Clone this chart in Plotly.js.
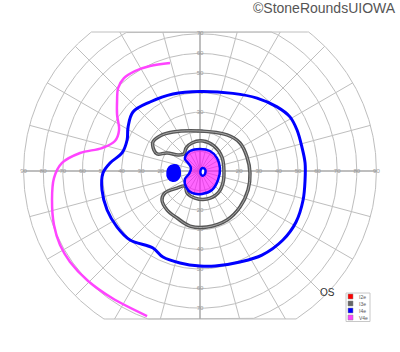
<!DOCTYPE html>
<html><head><meta charset="utf-8">
<script src="https://cdn.plot.ly/plotly-3.0.1.min.js"></script>
<style>html,body{margin:0;padding:0;background:#fff}#chart{width:400px;height:352px}</style>
</head><body><div id="chart"></div>
<script>
// ---------- data (degrees of visual field, x = temporal/nasal, y = superior/inferior) ----------
const isopterNames  = ['I2e', 'I3e', 'I4e', 'V4e'];
const isopterColors = ['#ff0000', '#666666', '#0000ff', '#ff44ff'];

const ringValues   = [10, 20, 30, 40, 50, 60, 70, 80, 90];
const hTickLabels  = [20, 30, 40, 50, 60, 70, 80, 90];
const vTickLabels  = [20, 30, 40, 50, 60, 70];
const meridianStep = 15;

// I4e isopter (blue, closed)
const i4eX = [0, 16.8, 29.1, 39.3, 45.9, 49.5, 52.0, 53.6, 53.6, 52.6, 49.0, 42.3, 31.6, 20.4, 7.7, 0, -10.2, -18.9, -24.0, -35.7, -42.3, -47.4, -50.0, -49.5, -45.9, -39.8, -37.2, -36.7, -34.2, -25.5, -13.8, 0];
const i4eY = [40.6, 39.6, 37.2, 32.7, 27.6, 20.9, 12.2, 4.1, -4.6, -14.8, -26.0, -35.2, -42.9, -46.4, -48.5, -48.5, -46.9, -43.9, -39.3, -35.2, -28.6, -19.9, -9.7, -1.0, 4.1, 9.2, 15.8, 22.4, 30.1, 35.2, 39.3, 40.6];

// I3e isopter (grey, C-shaped around the blind spot, closed)
const i3eX = [-24.0, -20.4, -13.8, 0, 13.8, 20.4, 24.0, 25.5, 24.5, 20.4, 13.8, 3.6, -5.1, -11.7, -16.8, -19.4, -17.9, -11.7, -7.7, -6.6, -2.6, 3.6, 9.2, 11.7, 12.2, 11.2, 7.1, 1.5, -4.1, -7.1, -8.2, -11.2, -16.8, -21.9, -23.5, -24.0];
const i3eY = [14.8, 17.9, 19.9, 20.4, 18.4, 14.3, 7.1, -1.0, -9.7, -18.4, -25.0, -28.6, -28.1, -24.0, -19.9, -14.8, -11.2, -8.7, -7.7, -11.2, -13.8, -14.3, -11.2, -6.1, 0.5, 7.1, 12.8, 15.3, 14.3, 11.7, 8.7, 8.2, 9.2, 8.7, 10.7, 14.8];

// V4e isopter (magenta, open on the temporal side)
const v4eX = [-15.3, -25.5, -33.2, -38.8, -41.8, -42.3, -42.3, -41.3, -43.4, -50.0, -61.2, -70.4, -74.5, -75.5, -74.5, -71.4, -66.3, -57.1, -44.9, -27.0];
const v4eY = [55.1, 53.6, 51.0, 47.4, 42.3, 36.2, 28.6, 20.9, 15.3, 11.7, 9.2, 4.1, -3.6, -14.8, -27.6, -37.8, -46.4, -56.1, -64.8, -74.0];

// central scotoma (I4e outline, V4e filled)
const centralX = [-7.1, -5.1, 0, 5.1, 8.7, 10.2, 9.2, 6.1, 1.0, -4.1, -7.1, -7.7, -5.6, -4.6, -6.1, -7.7, -7.1];
const centralY = [8.2, 10.2, 11.2, 10.2, 6.6, 1.5, -4.6, -9.7, -11.7, -11.2, -8.2, -4.1, -1.5, 1.5, 4.1, 6.1, 8.2];

// small spared island at fixation
const holeX = [1.5, 2.6, 2.8, 2.3, 1.3, 0.4, 0.2, 0.6, 1.5];
const holeY = [1.5, 0.8, -0.6, -1.9, -2.4, -1.6, -0.3, 1.0, 1.5];

// physiologic blind spot (I4e, filled)
const blindX = [-13.8, -11.2, -10.2, -10.2, -11.7, -14.3, -16.3, -16.8, -15.8, -13.8];
const blindY = [3.1, 2.6, 0.5, -2.6, -4.6, -5.1, -3.6, -0.5, 2.0, 3.1];

// ---------- layout geometry ----------
const W = 400, H = 352, CX = 200, CY = 171, PX = 1.96;
const xRange = [-CX / PX, (W - CX) / PX];
const yRange = [-(H - CY) / PX, CY / PX];
const TOP = (CY - 32) / PX, BOT = -(319 - CY) / PX;
const D2R = Math.PI / 180;

// rings
const rx = [], ry = [];
ringValues.forEach(r => {
  for (let a = 0; a <= 360; a += 0.5) {
    rx.push(r * Math.cos(a * D2R));
    ry.push(Math.min(TOP, Math.max(BOT, r * Math.sin(a * D2R))));
  }
  rx.push(null); ry.push(null);
});
// meridians
const mx = [], my = [];
const ax = [], ay = [];
const rMax = ringValues[ringValues.length - 1];
for (let a = 0; a < 360; a += meridianStep) {
  const s = Math.sin(a * D2R), c = Math.cos(a * D2R);
  let r = rMax;
  if (s > 1e-6) r = Math.min(r, TOP / s);
  if (s < -1e-6) r = Math.min(r, BOT / s);
  const tx = (a % 90 === 0) ? ax : mx, ty = (a % 90 === 0) ? ay : my;
  tx.push(0, r * c, null); ty.push(0, r * s, null);
}

// tick labels as a text trace (below data)
const tlx = [], tly = [], tlt = [];
hTickLabels.forEach(v => { tlx.push(v, -v); tly.push(0, 0); tlt.push(String(v), String(v)); });
vTickLabels.forEach(v => { tlx.push(0, 0); tly.push(v, -v); tlt.push(String(v), String(v)); });

const gridColor = '#bebebe';
const traces = [
  {x: rx, y: ry, mode: 'lines', line: {color: gridColor, width: 1}, hoverinfo: 'skip'},
  {x: mx, y: my, mode: 'lines', line: {color: gridColor, width: 1}, hoverinfo: 'skip'},
  {x: ax, y: ay, mode: 'lines', line: {color: '#a8a8a8', width: 1.5}, hoverinfo: 'skip'},
  {x: tlx, y: tly, mode: 'text', text: tlt, textfont: {size: 6, color: '#999', family: 'Liberation Sans, Arial, sans-serif'}, hoverinfo: 'skip'},
  {x: v4eX, y: v4eY, mode: 'lines', name: isopterNames[3], line: {color: isopterColors[3], width: 2.5, shape: 'spline'}},
  {x: i4eX, y: i4eY, mode: 'lines', name: isopterNames[2], line: {color: isopterColors[2], width: 3, shape: 'spline'}},
  {x: i3eX, y: i3eY, mode: 'lines', name: isopterNames[1], line: {color: '#555555', width: 3.5, shape: 'spline'}},
  {x: i3eX, y: i3eY, mode: 'lines', line: {color: '#a8a8a8', width: 1, shape: 'spline'}, hoverinfo: 'skip'},
  {x: centralX, y: centralY, mode: 'lines', fill: 'toself', fillcolor: 'rgba(255,0,255,0.6)', line: {color: isopterColors[2], width: 2.5, shape: 'spline'}},
  {x: holeX, y: holeY, mode: 'lines', fill: 'toself', fillcolor: '#ffffff', line: {color: isopterColors[2], width: 2.5, shape: 'spline'}},
  {x: blindX, y: blindY, mode: 'lines', fill: 'toself', fillcolor: isopterColors[2], line: {color: isopterColors[2], width: 1.5, shape: 'spline'}}
];

// manual legend
const shapes = [];
const annotations = [];
const lgX0 = 346, lgY0 = 293, rowH = 7;
shapes.push({type: 'rect', xref: 'paper', yref: 'paper', x0: lgX0 / W, x1: 370 / W, y0: 1 - (lgY0 + isopterNames.length * rowH + 0.5) / H, y1: 1 - lgY0 / H, line: {color: '#c8c8c8', width: 1}, fillcolor: '#ffffff'});
isopterNames.forEach((n, i) => {
  const yc = lgY0 + 3.5 + i * rowH;
  shapes.push({type: 'rect', xref: 'paper', yref: 'paper', x0: 348 / W, x1: 353 / W, y0: 1 - (yc + 2.5) / H, y1: 1 - (yc - 2.5) / H, line: {color: '#888', width: 0.5}, fillcolor: isopterColors[i]});
  annotations.push({xref: 'paper', yref: 'paper', x: 357 / W, y: 1 - yc / H, xanchor: 'left', yanchor: 'middle', text: n, showarrow: false, font: {size: 5, color: '#555', family: 'Liberation Sans, Arial, sans-serif'}});
});
annotations.push({xref: 'paper', yref: 'paper', x: 327 / W, y: 1 - 292 / H, xanchor: 'center', yanchor: 'middle', text: 'OS', showarrow: false, font: {size: 10, color: '#333', family: 'Liberation Sans, Arial, sans-serif'}});
annotations.push({xref: 'paper', yref: 'paper', x: 398 / W, y: 1 - 8 / H, xanchor: 'right', yanchor: 'middle', text: '©StoneRoundsUIOWA', showarrow: false, font: {size: 14, color: '#555', family: 'Liberation Sans, Arial, sans-serif'}});

const layout = {
  width: W, height: H,
  margin: {l: 0, r: 0, t: 0, b: 0, pad: 0},
  paper_bgcolor: '#ffffff', plot_bgcolor: '#ffffff',
  showlegend: false,
  xaxis: {range: xRange, visible: false, fixedrange: true},
  yaxis: {range: yRange, visible: false, fixedrange: true},
  shapes: shapes,
  annotations: annotations
};
Plotly.newPlot('chart', traces, layout, {staticPlot: true, displayModeBar: false});
</script>
</body></html>
